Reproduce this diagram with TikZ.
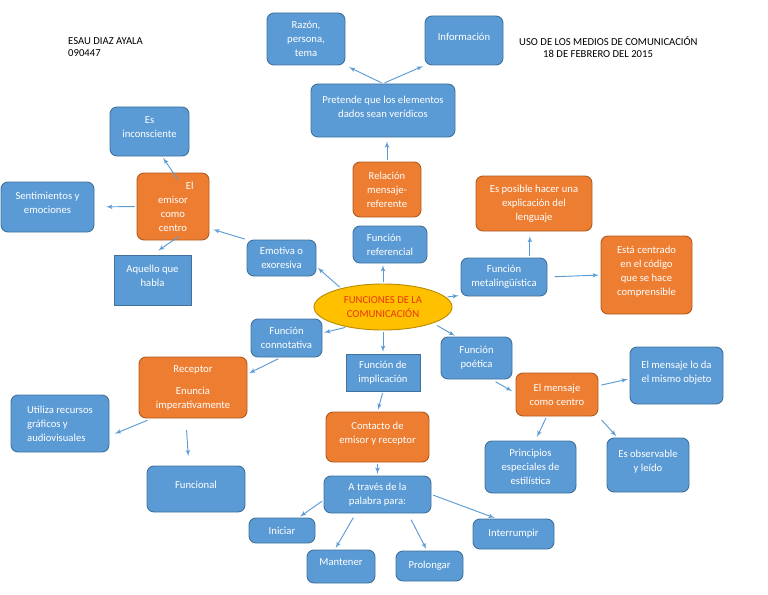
\documentclass[tikz,border=0pt]{standalone}
\usepackage{fontspec}
\setmainfont{Carlito}
\usetikzlibrary{arrows}
\usetikzlibrary{shapes.geometric}
\usepackage{xcolor}
\definecolor{azul}{HTML}{5B9BD5}
\definecolor{azulborde}{HTML}{41719C}
\definecolor{naranja}{HTML}{ED7D31}
\definecolor{naranjaborde}{HTML}{AE5A21}
\definecolor{amarillo}{HTML}{FFC000}
\definecolor{amarilloborde}{HTML}{BC8C00}
\definecolor{rojotexto}{HTML}{E8380D}
\newcommand{\blanco}{\\[-5pt]\mbox{}}

\begin{document}
\begin{tikzpicture}[x=.03cm, y=-.03cm, font=\fontsize{9.1}{12}\selectfont,
 sz/.style 2 args={minimum width=#1*.03cm, minimum height=#2*.03cm},
 caja/.style={draw=azulborde, fill=azul, text=white, line width=.8pt, rounded corners=6pt, align=center, inner sep=1pt},
 cajaR/.style={caja, rounded corners=0pt},
 naranj/.style={caja, draw=naranjaborde, fill=naranja},
 elipse/.style={ellipse, draw=amarilloborde, fill=amarillo, text=rojotexto, line width=.8pt, align=center, inner sep=1pt},
 flecha/.style={azul, line width=.8pt, ->, >=latex', shorten <=1.5pt, shorten >=1.5pt}]
\useasboundingbox (0,0) rectangle (768,594);
\node[anchor=west, align=left, inner sep=0pt, font=\fontsize{9.1}{10.3}\selectfont] (autor) at (68,47) {ESAU DIAZ AYALA\\090447};
\node[anchor=west, align=left, inner sep=0pt, font=\fontsize{9.1}{10.3}\selectfont] (materia) at (519,47) {USO DE LOS MEDIOS DE COMUNICACIÓN\\\hspace*{0.72cm}18 DE FEBRERO DEL 2015};

\node[caja, sz={78}{52}] (razon) at (306,39) {Razón,\\persona,\\tema};
\node[caja, sz={78}{49}] (info) at (464,40.5) {Información\blanco};
\node[caja, sz={144}{53}] (pretende) at (383,110.5) {Pretende que los elementos\\dados sean verídicos\blanco};
\node[naranj, sz={68}{55}] (relacion) at (387,189.5) {Relación\\mensaje-\\referente};
\node[caja, sz={74}{37}, align=left] (referencial) at (390,244.5) {Función\\referencial};
\node[caja, sz={69}{36}] (emotiva) at (281.5,258) {Emotiva o\\exoresiva};
\node[naranj, sz={72}{67}] (emisor) at (173,206.5) {\hspace*{1cm}El\\emisor\\como\\centro};
\node[caja, sz={79}{49}] (inconsciente) at (149.5,131.5) {Es\\inconsciente\blanco};
\node[caja, sz={93}{50}] (sentimientos) at (47.5,207) {Sentimientos y\\emociones\blanco};
\node[cajaR, sz={77}{50}] (aquello) at (152.5,280) {Aquello que\\habla\blanco};
\node[elipse, sz={138}{46}] (funciones) at (383,307) {FUNCIONES DE LA\\COMUNICACIÓN};
\node[caja, sz={86}{38}] (metaling) at (504,277) {Función\\metalingüística};
\node[naranj, sz={116}{55}] (posible) at (534,203.5) {Es posible hacer una\\explicación del\\lenguaje};
\node[naranj, sz={91}{78}] (centrado) at (646.5,275) {Está centrado\\en el código\\que se hace\\comprensible\blanco};
\node[caja, sz={71}{38}] (connotativa) at (286.5,338) {Función\\connotativa};
\node[naranj, sz={108}{61}] (receptor) at (193,387.5) {Receptor\\[6.8pt]Enuncia\\imperativamente};
\node[caja, sz={98}{57}, align=left] (utiliza) at (60,423.5) {Utiliza recursos\\gráficos y\\audiovisuales};
\node[caja, sz={98}{46}] (funcional) at (196,489) {Funcional\blanco};
\node[cajaR, sz={74}{37}] (implicacion) at (383,372.5) {Función de\\implicación};
\node[naranj, sz={103}{50}] (contacto) at (377.5,437) {Contacto de\\emisor y receptor\blanco};
\node[caja, sz={107}{37}] (atraves) at (377.5,494.5) {A través de la\\palabra para:};
\node[caja, sz={66}{25}] (iniciar) at (282,530.5) {Iniciar};
\node[caja, sz={68}{33}] (mantener) at (341,566.5) {Mantener\blanco};
\node[caja, sz={67}{30}] (prolongar) at (429.5,566) {Prolongar};
\node[caja, sz={81}{30}] (interrumpir) at (513.5,534) {Interrumpir};
\node[caja, sz={71}{42}] (poetica) at (476.5,358) {Función\\poética};
\node[naranj, sz={82}{43}] (centro) at (557,394.5) {El mensaje\\como centro};
\node[caja, sz={93}{57}] (objeto) at (676.5,375.5) {El mensaje lo da\\el mismo objeto\blanco};
\node[caja, sz={91}{52}] (principios) at (530.5,467) {Principios\\especiales de\\estilística};
\node[caja, sz={82}{54}] (observable) at (648,465) {Es observable\\y leído\blanco};

\draw[flecha, shorten >=3.4pt] (pretende.north) -- (razon.south east);
\draw[flecha] (pretende.north) -- (info.south west);
\draw[flecha, shorten >=3.4pt] (relacion.north) -- (relacion.north |- pretende.south);
\draw[flecha] (funciones.north) -- (funciones.north |- referencial.south);
\draw[flecha] (funciones.156) -- (emotiva.-14);
\draw[flecha, shorten >=3.4pt] (emotiva.north west) -- (emisor.-31);
\draw[flecha, shorten <=-7pt] (emisor.north) -- (inconsciente.-63);
\draw[flecha, shorten >=10pt] (emisor.west) -- (sentimientos.east);
\draw[flecha, shorten <=-6pt, shorten >=6pt] (emisor.south) -- (aquello.north);
\draw[flecha] (funciones.9) -- (metaling.203);
\draw[flecha, shorten >=4pt] (metaling.37) -- (metaling.37 |- posible.south);
\draw[flecha, shorten <=6pt] (metaling.east) -- (centrado.west);
\draw[flecha] (funciones.209) -- (connotativa.8);
\draw[flecha, shorten <=2.5pt] (connotativa.-106) -- (receptor.14);
\draw[flecha, shorten <=4pt, shorten >=5pt] (receptor.217) -- (utiliza.-14);
\draw[flecha, shorten <=10pt, shorten >=8pt] (receptor.-103) -- (funcional.107);
\draw[flecha] (funciones.south) -- (implicacion.north);
\draw[flecha] (implicacion.south) -- (contacto.north);
\draw[flecha] (contacto.south) -- (atraves.north);
\draw[flecha] (atraves.186) -- (iniciar.38);
\draw[flecha, shorten <=4pt] (atraves.221) -- (mantener.110);
\draw[flecha, shorten <=6pt] (atraves.-32) -- (prolongar.99);
\draw[flecha] (atraves.east) -- (interrumpir.138);
\draw[flecha, shorten <=4pt] (funciones.-18) -- (poetica.133);
\draw[flecha, shorten <=4pt, shorten >=3.4pt] (poetica.-55) -- (centro.178);
\draw[flecha, shorten <=2.5pt] (centro.12) -- (objeto.184);
\draw[flecha, shorten >=3.4pt] (centro.-115) -- (principios.80);
\draw[flecha, shorten <=4pt] (centro.south east) -- (observable.138);
\end{tikzpicture}
\end{document}
